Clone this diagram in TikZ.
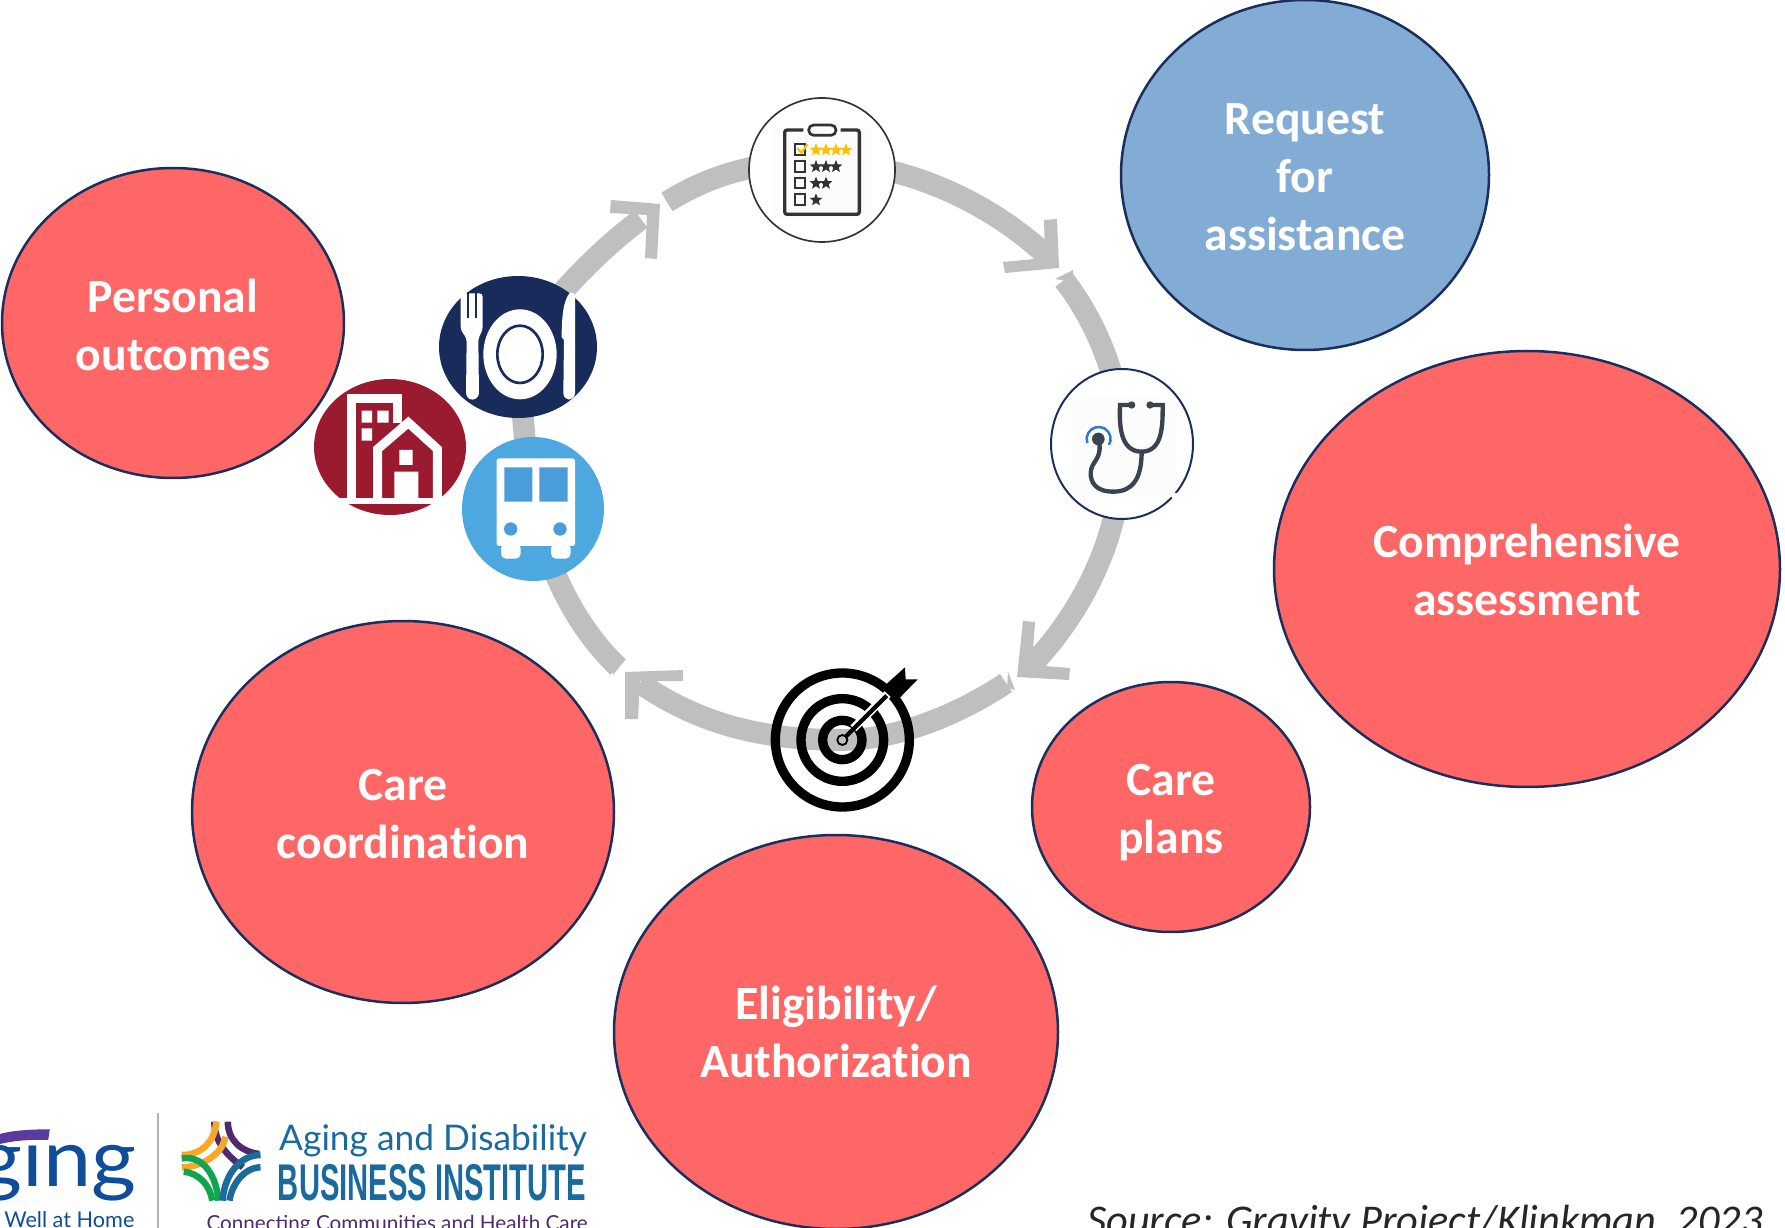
\documentclass[tikz,border=0pt]{standalone}
\usepackage{fontspec}
\usepackage{graphicx}
\setmainfont{Carlito}[Ligatures=NoCommon]
\newfontfamily\logofont{Lato}
\newfontfamily\condfont{Liberation Sans}
\usetikzlibrary{shapes.geometric}
\definecolor{bubred}{HTML}{FF6666}
\definecolor{bubblue}{HTML}{83ACD4}
\definecolor{bubline}{HTML}{1B2F5E}
\definecolor{ring}{HTML}{BFBFBF}
\definecolor{navy}{HTML}{182B5A}
\definecolor{wine}{HTML}{9A1B30}
\definecolor{sky}{HTML}{4EA8E0}
\definecolor{winblue}{HTML}{4A9DD9}
\definecolor{ink}{HTML}{333333}
\definecolor{steth}{HTML}{3B4350}
\definecolor{stethblue}{HTML}{2E7CC4}
\definecolor{gold}{HTML}{FFC000}
\definecolor{agingblue}{HTML}{0F4C9A}
\definecolor{swoosh}{HTML}{5B3A9E}
\definecolor{adblue}{HTML}{1A6A9E}
\definecolor{adpurple}{HTML}{4F2A6E}
\definecolor{adorange}{HTML}{F9A72B}
\definecolor{adgreen}{HTML}{10A54F}
\newcommand\lineup[1]{\rule{0pt}{#1pt}}
\tikzset{
  bubble/.style={ellipse,draw=bubline,line width=1.5pt,inner sep=0pt,align=center,text=white,
    font=\fontsize{28.6}{34.8}\selectfont\bfseries},
  band/.style={draw=ring,line width=13pt,line cap=butt},
  tip/.style={fill=ring,draw=none},
  iconcirc/.style={ellipse,inner sep=0pt},
  rating/.style={star,star points=5,star point ratio=2.3,fill=#1,draw=none,inner sep=0pt,minimum size=8pt},
  logoband/.style={line width=3.9pt,line cap=butt},
}
\begin{document}
\begin{tikzpicture}[x=0.6pt,y=-0.6pt]
\useasboundingbox (0,0) rectangle (1785,1228);
\clip (0,0) rectangle (1785,1228);
% named points of the ring
\coordinate (a1) at (1047,256);
\coordinate (s2) at (1064,280);
\coordinate (a2) at (1029,668);
\coordinate (s3) at (1006,683);
\coordinate (a3) at (640,683);
\coordinate (s4) at (618,667);
\coordinate (a4) at (641,219);
\coordinate (s5) at (667,202);
\path (822,170) coordinate (cClip) (1122,444) coordinate (cSteth) (842,740) coordinate (cTarget)
      (518,347) coordinate (cFood) (533,509) coordinate (cBus) (822,162) coordinate (cClipB);
% ring bands
\draw[band] (cClipB) .. controls (900,163) and (985,198) .. (a1);
\draw[band] (s2) .. controls (1095,320) and (1122,380) .. (cSteth);
\draw[band] (cSteth) .. controls (1124,530) and (1085,610) .. (a2);
\draw[band] (s3) .. controls (950,720) and (890,740) .. (cTarget);
\draw[band] (cTarget) .. controls (765,740) and (700,725) .. (a3);
\draw[band] (s4) .. controls (585,635) and (555,590) .. (cBus);
\draw[band] (cFood) .. controls (521,380) and (521,420) .. (cBus);
\draw[band] (cFood) .. controls (560,290) and (600,250) .. (a4);
\draw[band] (s5) .. controls (710,175) and (760,160) .. (cClipB);
% arrow heads
\fill[tip] (1044,220)--(1057,219)--(1059,268)--(1005,273)--(1003,262)--(1045,258)--cycle;
\fill[tip] (1023,621)--(1035,622)--(1032,665)--(1070,668)--(1069,680)--(1017,677)--cycle;
\fill[tip] (625,672)--(683,670)--(683,681)--(640,681)--(638,719)--(625,719)--cycle;
\fill[tip] (611,200)--(660,204)--(657,259)--(645,258)--(647,215)--(610,213)--cycle;
% stub notches
\fill[tip] (1073,270)--(1073,282)--(1055,279)--cycle;
\fill[tip] (1008,672)--(1007,688)--(1015,690)--cycle;
\fill[tip] (626,659)--(613,659)--(613,675)--cycle;
\fill[tip] (663,192)--(673,193)--(672,210)--cycle;
% bubbles
\node[bubble,fill=bubblue,minimum width=220.8pt,minimum height=210pt] (request) at (1305,175) {\lineup{21}Request\\for\\assistance};
\node[bubble,fill=bubred,minimum width=303.6pt,minimum height=261.6pt] (compr) at (1527,569) {\lineup{21.4}Comprehensive\\assessment};
\node[bubble,fill=bubred,minimum width=166.8pt,minimum height=150pt] (plans) at (1171,807) {\lineup{25}Care\\plans};
\node[bubble,fill=bubred,minimum width=266.4pt,minimum height=236.4pt] (elig) at (836,1032) {Eligibility/\\Authorization};
\node[bubble,fill=bubred,minimum width=253.2pt,minimum height=229.2pt] (coord) at (403,812) {\lineup{21}Care\\coordination};
\node[bubble,fill=bubred,minimum width=205.2pt,minimum height=186pt] (outcomes) at (173,323) {\lineup{23}Personal\\outcomes};
% clipboard icon
\node[iconcirc,fill=white,draw=ink,line width=1pt,minimum width=87.6pt,minimum height=86.4pt] (clip) at (cClip) {};
\begin{scope}[shift={(720,80)},x=0.2pt,y=-0.2pt]
  \fill[black!1] (160,125) rectangle (455,415);
  \draw[ink,line width=2pt,rounded corners=1.5pt] (250,150) -- (194,150) -- (194,403) -- (418,403) -- (418,150) -- (362,150);
  \draw[ink,line width=1.6pt,rounded corners=3pt] (266,135) rectangle (348,166);
  \foreach \yy in {193,243,293,343} \draw[ink,line width=1.2pt] (224,\yy) rectangle (256,\yy+32);
  \draw[gold,line width=1.3pt] (232,205) -- (245,218) -- (262,192);
  \foreach \xx [count=\i] in {288,318,348,378} \node[rating=gold,name=ra\i] at (\xx,210) {};
  \foreach \xx [count=\i] in {288,318,348} \node[rating=ink,name=rb\i] at (\xx,260) {};
  \foreach \xx [count=\i] in {288,318} \node[rating=ink,name=rc\i] at (\xx,310) {};
  \node[rating=ink,name=rd1] at (288,360) {};
\end{scope}
% stethoscope icon
\node[iconcirc,fill=white,draw=bubline,line width=1.2pt,minimum width=85.2pt,minimum height=90pt] (stethnode) at (cSteth) {};
\begin{scope}[shift={(1000,340)},x=0.2pt,y=-0.2pt]
  \fill[black!1] (220,175) rectangle (525,470);
  \fill[white] (515,460) rectangle (535,485);
  \draw[steth,line width=2.6pt,line cap=round] (395,195) -- (360,195) .. controls (358,250) and (358,335) .. (425,335) .. controls (490,335) and (488,250) .. (488,195) -- (450,195);
  \fill[steth] (395,195) circle[radius=11]; \fill[steth] (450,195) circle[radius=11];
  \fill[white] (385,288) .. controls (420,305) and (440,305) .. (472,288) .. controls (450,320) and (410,320) .. (385,288);
  \draw[steth,line width=2.6pt] (425,335) .. controls (425,420) and (395,455) .. (340,455) .. controls (285,455) and (272,425) .. (272,400) .. controls (272,365) and (305,360) .. (298,310);
  \fill[steth] (295,297) circle[radius=19];
  \draw[stethblue,line width=1.5pt] (327,315) arc[start angle=30,end angle=-200,radius=36];
\end{scope}
% target icon
\node[iconcirc,minimum width=20pt,minimum height=20pt] (target) at (842,740) {};
\begin{scope}[shift={(600,640)},x=0.2pt,y=-0.2pt]
  \foreach \rr in {201,124,59} \draw[black,line width=5.6pt] (727,300) circle[radius=\rr];
  \draw[black,line width=1.1pt] (727,300) circle[radius=15];
  \draw[white,line width=5pt] (760,265) -- (885,140);
  \draw[black,line width=2.6pt] (735,292) -- (860,167);
  \fill[black] (845,145)--(915,82)--(917,118)--(953,118)--(888,185)--cycle;
\end{scope}
% food icon
\node[iconcirc,fill=navy,minimum width=94.8pt,minimum height=85.2pt] (food) at (cFood) {};
\begin{scope}[shift={(300,250)},x=0.2pt,y=-0.2pt]
  \fill[white] (660,313) ellipse[x radius=110,y radius=135];
  \draw[navy,line width=1.6pt] (660,313) ellipse[x radius=68,y radius=86];
  \fill[white,rounded corners=2pt] (482,130) -- (548,130) -- (548,240) -- (535,265) -- (537,440) -- (517,452) -- (498,440) -- (500,265) -- (482,240) -- cycle;
  \fill[navy] (500,125) rectangle (507,205);
  \fill[navy] (524,125) rectangle (531,205);
  \fill[white] (810,128) .. controls (790,150) and (785,200) .. (785,262) -- (792,270) -- (790,430) .. controls (792,455) and (822,455) .. (825,430) -- (825,140) .. controls (825,130) and (818,125) .. (810,128) -- cycle;
\end{scope}
% house icon
\node[iconcirc,fill=wine,minimum width=91.2pt,minimum height=81.6pt] (house) at (390,447) {};
\begin{scope}[shift={(300,250)},x=0.2pt,y=-0.2pt]
  \draw[white,line width=5.4pt] (153,745) -- (153,447) -- (293,447) -- (293,520);
  \draw[white,line width=5.4pt,line join=miter] (233,745) -- (233,597) -- (325,518) -- (412,597) -- (412,745);
  \fill[white] (185,482) rectangle (216,518) (232,482) rectangle (266,518) (185,535) rectangle (216,572);
  \fill[white] (298,600) rectangle (338,645) (283,665) rectangle (355,745);
  \fill[white] (100,743) rectangle (440,762);
\end{scope}
% bus icon
\node[iconcirc,fill=sky,minimum width=85.2pt,minimum height=86.4pt] (bus) at (cBus) {};
\begin{scope}[shift={(300,250)},x=0.2pt,y=-0.2pt]
  \fill[white,rounded corners=1.5pt] (590,625) rectangle (825,888);
  \fill[white,rounded corners=3pt] (603,880) rectangle (662,926) (753,880) rectangle (812,926);
  \fill[winblue] (613,652) rectangle (697,755) (718,652) rectangle (803,755);
  \fill[winblue] (632,837) circle[radius=20] (780,837) circle[radius=20];
\end{scope}
% logos
\begin{scope}[shift={(0,1080)},x=0.245pt,y=-0.2pt]
  \draw[black!30,line width=0.7pt] (387,98) -- (387,444);
  \node[anchor=base east,inner sep=0pt,text=agingblue] (ging) at (335,318) {\scalebox{1.08}[1]{\logofont\fontsize{48}{48}\selectfont ging}};
  \fill[white] (-10,120) rectangle (125,180);
  \fill[swoosh] (-10,165) .. controls (30,150) and (80,148) .. (122,148) -- (118,180) .. controls (70,178) and (30,182) .. (-10,195) -- cycle;
  \node[anchor=base east,inner sep=0pt,text=agingblue,font=\logofont\fontsize{13}{13}\selectfont] (well) at (330,441) {Well at Home};
  \draw[logoband,adpurple] (525,125) .. controls (525,190) and (560,230) .. (595,262);
  \draw[logoband,adorange] (445,225) .. controls (490,225) and (525,190) .. (530,125);
  \draw[logoband,adorange] (445,262) .. controls (490,262) and (545,225) .. (552,170);
  \draw[logoband,adpurple] (558,125) .. controls (558,180) and (590,215) .. (635,222);
  \draw[logoband,adgreen] (445,235) .. controls (500,225) and (530,290) .. (535,362);
  \draw[logoband,adgreen] (450,275) .. controls (490,280) and (515,320) .. (520,362);
  \draw[logoband,adblue] (638,225) .. controls (590,225) and (550,280) .. (545,362);
  \draw[logoband,adblue] (638,262) .. controls (600,262) and (568,310) .. (562,362);
  \node[anchor=base west,inner sep=0pt,text=adblue,font=\logofont\fontsize{21.2}{21.2}\selectfont] (aging) at (683,210) {Aging and Disability};
  \node[anchor=base west,inner sep=0pt,text=adblue] (bi) at (680,362) {\scalebox{0.565}[1]{\condfont\bfseries\fontsize{31}{31}\selectfont BUSINESS INSTITUTE}};
  \node[anchor=base west,inner sep=0pt,text=adpurple,font=\logofont\fontsize{12.4}{12.4}\selectfont] (conn) at (505,451) {Connecting Communities and Health Care};
\end{scope}
\node[anchor=base west,inner sep=0pt,text=black!85,font=\fontsize{25.4}{25.4}\selectfont\itshape] (source) at (1087,1234) {Source: Gravity Project/Klinkman, 2023};
\end{tikzpicture}
\end{document}
